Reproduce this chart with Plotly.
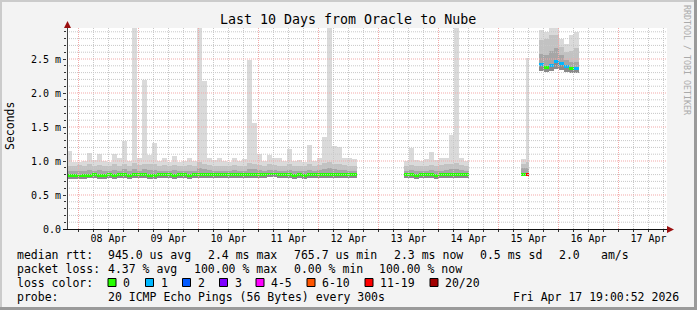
import plotly.graph_objects as go
from datetime import datetime, timedelta

# ---------------- data ----------------
TITLE = "Last 10 Days from Oracle to Nube"
AXIS_START = "2026-04-07 19:24"
AXIS_END = "2026-04-17 19:24"

x_tick_days = ["2026-04-08", "2026-04-09", "2026-04-10", "2026-04-11", "2026-04-12",
               "2026-04-13", "2026-04-14", "2026-04-15", "2026-04-16", "2026-04-17"]
x_tick_labels = ["08 Apr", "09 Apr", "10 Apr", "11 Apr", "12 Apr",
                 "13 Apr", "14 Apr", "15 Apr", "16 Apr", "17 Apr"]
y_tick_vals = [0.0, 0.5, 1.0, 1.5, 2.0, 2.5]
y_tick_labels = ["0.0", "0.5 m", "1.0 m", "1.5 m", "2.0 m", "2.5 m"]

# segment A (2 h bins)
seg_a_start = "2026-04-07 19:24"
seg_a_step_h = 2
seg_a_lo = [0.74, 0.74, 0.73, 0.74, 0.75, 0.75, 0.74, 0.74, 0.75, 0.74,
            0.75, 0.75, 0.74, 0.75, 0.75, 0.75, 0.74, 0.74, 0.75, 0.75,
            0.75, 0.74, 0.75, 0.75, 0.74, 0.75, 0.75, 0.75, 0.75, 0.75,
            0.75, 0.75, 0.75, 0.75, 0.75, 0.75, 0.75, 0.75, 0.75, 0.75,
            0.76, 0.76, 0.75, 0.75, 0.75, 0.74, 0.75, 0.74, 0.75, 0.75,
            0.75, 0.75, 0.75, 0.75, 0.75, 0.75, 0.75, 0.75]
seg_a_med = [0.79, 0.79, 0.78, 0.79, 0.79, 0.80, 0.79, 0.79, 0.80, 0.79,
             0.80, 0.80, 0.79, 0.80, 0.80, 0.80, 0.79, 0.79, 0.80, 0.80,
             0.80, 0.79, 0.80, 0.80, 0.79, 0.80, 0.80, 0.80, 0.80, 0.80,
             0.80, 0.80, 0.80, 0.80, 0.80, 0.80, 0.80, 0.80, 0.80, 0.80,
             0.81, 0.81, 0.80, 0.80, 0.80, 0.79, 0.80, 0.79, 0.80, 0.80,
             0.80, 0.80, 0.80, 0.80, 0.80, 0.80, 0.80, 0.80]
seg_a_p1 = [0.86, 0.86, 0.85, 0.86, 0.87, 0.86, 0.87, 0.86, 0.86, 0.87,
            0.86, 0.88, 0.86, 0.88, 0.86, 0.88, 0.87, 0.87, 0.86, 0.86,
            0.86, 0.87, 0.86, 0.86, 0.86, 0.86, 0.89, 0.88, 0.87, 0.86,
            0.86, 0.86, 0.86, 0.87, 0.86, 0.86, 0.88, 0.88, 0.87, 0.86,
            0.87, 0.87, 0.86, 0.86, 0.87, 0.86, 0.86, 0.86, 0.87, 0.86,
            0.87, 0.88, 0.89, 0.88, 0.87, 0.87, 0.86, 0.86]
seg_a_p2 = [0.93, 0.92, 0.94, 0.93, 0.95, 0.92, 0.94, 0.93, 0.92, 0.95,
            0.93, 0.96, 0.93, 0.97, 0.94, 0.96, 0.95, 0.95, 0.93, 0.94,
            0.92, 0.94, 0.93, 0.92, 0.94, 0.93, 0.98, 0.96, 0.94, 0.93,
            0.93, 0.92, 0.92, 0.94, 0.93, 0.93, 0.97, 0.96, 0.94, 0.93,
            0.95, 0.94, 0.93, 0.92, 0.95, 0.93, 0.93, 0.92, 0.95, 0.93,
            0.94, 0.97, 0.98, 0.96, 0.95, 0.94, 0.93, 0.93]
seg_a_hi = [1.14, 0.99, 0.98, 1.00, 1.12, 1.02, 1.10, 1.00, 0.98, 1.10,
            1.05, 1.30, 1.00, 3.00, 1.05, 2.19, 1.09, 1.27, 1.00, 1.04,
            0.99, 1.08, 0.98, 1.00, 1.05, 1.00, 3.00, 2.17, 1.05, 1.02,
            1.04, 1.00, 0.99, 1.04, 1.00, 1.03, 2.49, 1.56, 1.10, 1.00,
            1.09, 1.05, 1.04, 1.00, 1.18, 1.00, 1.02, 0.99, 1.24, 1.00,
            1.05, 1.36, 3.00, 1.22, 1.21, 1.04, 1.05, 1.03]
seg_a_loss = [0] * 58

# segment B (2 h bins)
seg_b_start = "2026-04-13 10:00"
seg_b_step_h = 2
seg_b_lo = [0.75, 0.75, 0.74, 0.75, 0.75, 0.75, 0.74, 0.75, 0.75, 0.75, 0.75, 0.75, 0.75]
seg_b_med = [0.80, 0.80, 0.79, 0.80, 0.80, 0.80, 0.79, 0.80, 0.80, 0.80, 0.80, 0.80, 0.80]
seg_b_p1 = [0.86, 0.87, 0.86, 0.86, 0.86, 0.87, 0.86, 0.86, 0.87, 0.88, 0.88, 0.87, 0.86]
seg_b_p2 = [0.92, 0.94, 0.93, 0.92, 0.93, 0.94, 0.93, 0.94, 0.95, 0.96, 0.97, 0.94, 0.93]
seg_b_hi = [1.00, 1.19, 1.02, 1.00, 1.03, 1.13, 1.02, 1.04, 1.05, 1.38, 3.00, 1.05, 1.00]
seg_b_loss = [0] * 13

# segment C (1 h bins)
seg_c_start = "2026-04-15 09:00"
seg_c_step_h = 1
seg_c_lo = [0.78, 0.78, 0.78]
seg_c_med = [0.80, 0.80, 0.80]
seg_c_p1 = [0.89, 0.89, 0.90]
seg_c_p2 = [0.96, 0.96, 0.98]
seg_c_hi = [1.03, 1.03, 2.51]
seg_c_loss = [0, 0, 19]

# segment D (2 h bins)
seg_d_start = "2026-04-15 16:00"
seg_d_step_h = 2
seg_d_lo = [2.32, 2.31, 2.33, 2.36, 2.34, 2.31, 2.30, 2.30]
seg_d_med = [2.42, 2.38, 2.40, 2.46, 2.43, 2.39, 2.36, 2.36]
seg_d_p1 = [2.58, 2.56, 2.62, 2.66, 2.56, 2.48, 2.46, 2.46]
seg_d_p2 = [2.78, 2.80, 2.85, 2.86, 2.68, 2.60, 2.62, 2.66]
seg_d_hi = [2.93, 2.90, 3.00, 3.00, 2.80, 2.72, 2.85, 2.90]
seg_d_loss = [1, 0, 1, 1, 1, 1, 0, 1]

loss_colors = {0: "#26ff00", 1: "#00b8ff", 2: "#0059ff", 3: "#7e00ff",
               5: "#ff00ff", 10: "#ff5500", 19: "#ff0000", 20: "#a10000"}
legend_loss_labels = ["0", "1", "2", "3", "4-5", "6-10", "11-19", "20/20"]
legend_loss_keys = [0, 1, 2, 3, 5, 10, 19, 20]

stats_line1 = ["median rtt:", "945.0 us avg", "2.4 ms max", "765.7 us min",
               "2.3 ms now", "0.5 ms sd", "2.0", "am/s"]
stats_line2 = ["packet loss:", "4.37 % avg", "100.00 % max", "0.00 % min", "100.00 % now"]
probe_text = ["probe:", "20 ICMP Echo Pings (56 Bytes) every 300s"]
stamp_text = "Fri Apr 17 19:00:52 2026"

# ---------------- build ----------------
segments = [
    (seg_a_start, seg_a_step_h, seg_a_lo, seg_a_med, seg_a_p1, seg_a_p2, seg_a_hi, seg_a_loss),
    (seg_b_start, seg_b_step_h, seg_b_lo, seg_b_med, seg_b_p1, seg_b_p2, seg_b_hi, seg_b_loss),
    (seg_c_start, seg_c_step_h, seg_c_lo, seg_c_med, seg_c_p1, seg_c_p2, seg_c_hi, seg_c_loss),
    (seg_d_start, seg_d_step_h, seg_d_lo, seg_d_med, seg_d_p1, seg_d_p2, seg_d_hi, seg_d_loss),
]

xs, ws, LO, MED, P1, P2, HI, LC = [], [], [], [], [], [], [], []
for start, step, lo, med, p1, p2, hi, loss in segments:
    t0 = datetime.strptime(start, "%Y-%m-%d %H:%M")
    for i in range(len(med)):
        xs.append(t0 + timedelta(hours=step * (i + 0.5)))
        ws.append(step * 3600 * 1000)
        LO.append(lo[i]); MED.append(med[i]); P1.append(p1[i]); P2.append(p2[i]); HI.append(hi[i])
        LC.append(loss_colors[loss[i]])

fig = go.Figure()
layers = [(LO, MED, "#8a8a8a"), (MED, P1, "#a6a6a6"), (P1, P2, "#c2c2c2"), (P2, HI, "#dadada")]
for low, high, col in layers:
    fig.add_trace(go.Bar(x=xs, base=low, y=[h - l for l, h in zip(low, high)], width=ws,
                         marker=dict(color=col, line=dict(width=0)), hoverinfo="skip",
                         showlegend=False))
MED_T = 0.04
fig.add_trace(go.Bar(x=xs, base=[m - MED_T / 2 for m in MED], y=[MED_T] * len(MED), width=ws,
                     marker=dict(color=LC, line=dict(width=0)), hoverinfo="skip",
                     showlegend=False))

W, H = 697, 310
L, R, T, B = 67, 667, 28, 229
YMAX = 2.956
MAJOR_GRID = "#f3a9a9"
MINOR_GRID = "#c8c8c8"


def PX(x):
    return (x - L) / (R - L)


def PY(y):
    return (B - y) / (B - T)


shapes = []
# grid (drawn on top like rrdtool)
t = datetime(2026, 4, 8, 0, 0)
tend = datetime.strptime(AXIS_END, "%Y-%m-%d %H:%M")
while t < tend:
    major = t.hour == 0
    shapes.append(dict(type="line", xref="x", yref="paper", x0=t, x1=t, y0=0, y1=1, layer="above",
                       line=dict(color=MAJOR_GRID if major else MINOR_GRID, width=1, dash="1px,1px")))
    t += timedelta(hours=6)
for k in range(1, 30):
    v = k / 10
    major = k % 5 == 0
    shapes.append(dict(type="line", xref="paper", yref="y", x0=0, x1=1, y0=v, y1=v, layer="above",
                       line=dict(color=MAJOR_GRID if major else MINOR_GRID, width=1, dash="1px,1px")))

# axes and arrows
shapes.append(dict(type="line", xref="paper", yref="paper", x0=PX(63), x1=PX(669), y0=PY(229.5), y1=PY(229.5),
                   line=dict(color="#111", width=1), layer="above"))
shapes.append(dict(type="line", xref="paper", yref="paper", x0=PX(67.5), x1=PX(67.5), y0=PY(229), y1=PY(26),
                   line=dict(color="#444", width=1), layer="above"))
shapes.append(dict(type="path", xref="paper", yref="paper",
                   path=f"M {PX(674)} {PY(229.5)} L {PX(667)} {PY(226)} L {PX(667)} {PY(233)} Z",
                   fillcolor="#9b1010", line=dict(width=0), layer="above"))
shapes.append(dict(type="path", xref="paper", yref="paper",
                   path=f"M {PX(67.5)} {PY(21)} L {PX(64)} {PY(28)} L {PX(71)} {PY(28)} Z",
                   fillcolor="#9b1010", line=dict(width=0), layer="above"))
# frame
shapes.append(dict(type="rect", xref="paper", yref="paper", x0=PX(0), x1=PX(697), y0=PY(0), y1=PY(2),
                   fillcolor="#cbcbcb", line=dict(width=0), layer="below"))
shapes.append(dict(type="rect", xref="paper", yref="paper", x0=PX(0), x1=PX(2), y0=PY(0), y1=PY(310),
                   fillcolor="#cbcbcb", line=dict(width=0), layer="below"))
shapes.append(dict(type="rect", xref="paper", yref="paper", x0=PX(694), x1=PX(697), y0=PY(0), y1=PY(310),
                   fillcolor="#9a9a9a", line=dict(width=0), layer="below"))
shapes.append(dict(type="rect", xref="paper", yref="paper", x0=PX(0), x1=PX(697), y0=PY(307), y1=PY(310),
                   fillcolor="#9a9a9a", line=dict(width=0), layer="below"))

MONO = "DejaVu Sans Mono"
ann = []


def text(x, y, s, size=11.5, anchor="left", color="black", angle=0):
    ann.append(dict(xref="paper", yref="paper", x=PX(x), y=PY(y), text=s, showarrow=False,
                    xanchor=anchor, yanchor="middle", borderpad=0, textangle=angle,
                    font=dict(family=MONO, size=size, color=color)))


text(348, 19, TITLE, size=13.3, anchor="center")
text(10, 126, "Seconds", size=11.5, anchor="center", angle=-90)
text(687, 60, "RRDTOOL / TOBI OETIKER", size=8.3, anchor="center", color="#aaaaaa", angle=90)

l1x = [16, 107, 207, 293, 393, 479, 558, 600]
for x, s in zip(l1x, stats_line1):
    text(x, 254.5, s)
l2x = [16, 107, 193, 293, 378]
for x, s in zip(l2x, stats_line2):
    text(x, 268.5, s)
text(16, 282.5, "loss color:")
box_x = [108, 145.5, 182.5, 219.5, 256, 307, 365, 430]
for bx, lab, key in zip(box_x, legend_loss_labels, legend_loss_keys):
    shapes.append(dict(type="rect", xref="paper", yref="paper", x0=PX(bx), x1=PX(bx + 8),
                       y0=PY(278.5), y1=PY(286.5), fillcolor=loss_colors[key],
                       line=dict(color="black", width=1), layer="above"))
    text(bx + 14, 282.5, lab)
text(16, 296.5, probe_text[0])
text(107, 296.5, probe_text[1])
text(680, 296.5, stamp_text, anchor="right")

x_tickvals = [d + " 12:00" for d in x_tick_days]

fig.update_layout(
    width=W, height=H, margin=dict(l=L, r=W - R, t=T, b=H - B),
    paper_bgcolor="#f3f3f3", plot_bgcolor="#ffffff",
    barmode="overlay", bargap=0, showlegend=False,
    shapes=shapes, annotations=ann,
    xaxis=dict(type="date", range=[AXIS_START, AXIS_END], tickmode="array",
               tickvals=x_tickvals, ticktext=x_tick_labels, ticks="", showgrid=False,
               zeroline=False, showline=False, ticklabelstandoff=2,
               tickfont=dict(family=MONO, size=10, color="black"),
               minor=dict(tickmode="linear", tick0="2026-04-08 00:00", dtick=6 * 3600 * 1000,
                          ticks="outside", ticklen=2, tickcolor="#333", showgrid=False)),
    yaxis=dict(range=[0, YMAX], tickmode="array", tickvals=y_tick_vals, ticktext=y_tick_labels,
               ticks="outside", ticklen=3, tickcolor="#333", showgrid=False, zeroline=False,
               showline=False, tickfont=dict(family=MONO, size=10, color="black"),
               minor=dict(tickmode="linear", tick0=0, dtick=0.1, ticks="outside", ticklen=2,
                          tickcolor="#333", showgrid=False)),
)

fig.write_html("out.html")
